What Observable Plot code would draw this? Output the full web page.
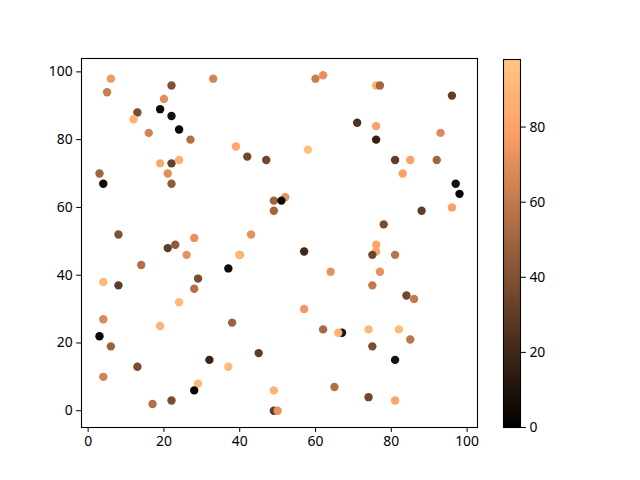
<!DOCTYPE html>
<html>
<head>
<meta charset="utf-8">
<script src="https://cdn.jsdelivr.net/npm/d3@7"></script>
<script src="https://cdn.jsdelivr.net/npm/@observablehq/plot@0.6"></script>
<style>
  body { margin: 0; background: white; }
  #chart { position: relative; width: 640px; height: 480px; }
  #chart svg { position: absolute; left: 0; top: 0; }
</style>
</head>
<body>
<div id="chart"></div>
<script>
// scatter values (x, y, colour value)
const xs = [6, 5, 22, 33, 20, 13, 12, 19, 22, 24, 16, 27, 39, 42, 47, 19, 22, 24, 21, 22,
  3, 4, 49, 52, 51, 49, 8, 28, 43, 60, 62, 76, 77, 96, 71, 76, 76, 93, 58, 81,
  85, 92, 83, 97, 98, 96, 88, 78, 23, 21, 26, 40, 40, 37, 14, 29, 28, 4, 8, 24,
  4, 19, 38, 3, 6, 13, 32, 37, 45, 4, 29, 28, 49, 17, 22, 49, 50, 57, 76, 76,
  75, 81, 64, 77, 75, 84, 86, 57, 62, 67, 66, 74, 82, 85, 75, 81, 65, 74, 81];
const ys = [98, 94, 96, 98, 92, 88, 86, 89, 87, 83, 82, 80, 78, 75, 74, 73, 73, 74, 70, 67,
  70, 67, 62, 63, 62, 59, 52, 51, 52, 98, 99, 96, 96, 93, 85, 84, 80, 82, 77, 74,
  74, 74, 70, 67, 64, 60, 59, 55, 49, 48, 46, 46, 46, 42, 43, 39, 36, 38, 37, 32,
  27, 25, 26, 22, 19, 13, 15, 13, 17, 10, 8, 6, 6, 2, 3, 0, 0, 47, 47, 49,
  46, 46, 41, 41, 37, 34, 33, 30, 24, 23, 23, 24, 24, 21, 19, 15, 7, 4, 3];
const cs = [75, 62, 40, 65, 70, 38, 88, 5, 8, 2, 65, 55, 82, 35, 35, 82, 32, 85, 70, 45,
  50, 5, 48, 72, 5, 50, 40, 72, 72, 62, 72, 85, 50, 30, 25, 78, 15, 68, 95, 30,
  78, 50, 78, 8, 2, 78, 30, 38, 45, 30, 72, 55, 90, 5, 55, 38, 55, 90, 30, 92,
  68, 88, 48, 3, 48, 38, 18, 92, 30, 65, 90, 2, 88, 55, 38, 30, 72, 20, 80, 80,
  35, 58, 72, 72, 60, 35, 60, 75, 52, 10, 88, 90, 92, 58, 38, 8, 55, 35, 80];

const cMax = 98;
const xTicks = [0, 20, 40, 60, 80, 100];
const yTicks = [0, 20, 40, 60, 80, 100];
const cTicks = [0, 20, 40, 60, 80];

const points = xs.map((x, i) => ({x, y: ys[i], c: cs[i]}));

// matplotlib "copper"
const copper = t => `rgb(${Math.min(1, t / 0.809524) * 255},${0.7812 * t * 255},${0.4975 * t * 255})`;
const colorScale = {type: "linear", domain: [0, cMax], interpolate: copper};

const font = {fontFamily: "Noto Sans, DejaVu Sans, sans-serif", fontSize: "13.9px", background: "transparent", color: "black"};

// 5% margins like matplotlib autoscale
const pad = (lo, hi) => [lo - (hi - lo) * 0.05, hi + (hi - lo) * 0.05];

const main = Plot.plot({
  width: 640,
  height: 480,
  marginLeft: 81,
  marginRight: 163,
  marginTop: 58,
  marginBottom: 53,
  style: font,
  x: {domain: pad(d3.min(xs), d3.max(xs)), ticks: xTicks, label: null},
  y: {domain: pad(d3.min(ys), d3.max(ys)), ticks: yTicks, label: null},
  color: colorScale,
  marks: [
    Plot.dot(points, {x: "x", y: "y", fill: "c", r: 4.2}),
    Plot.axisX({ticks: xTicks, tickSize: 4.9, tickPadding: 4, label: null}),
    Plot.axisY({ticks: yTicks, tickSize: 4.9, tickPadding: 4, label: null}),
    Plot.frame({stroke: "black", strokeWidth: 1.1})
  ]
});

// colour bar
const step = 0.5;
const slices = d3.range(0, cMax, step);
const bar = Plot.plot({
  width: 640,
  height: 480,
  marginLeft: 503,
  marginRight: 120,
  marginTop: 59,
  marginBottom: 53,
  style: font,
  y: {domain: [0, cMax], label: null},
  color: colorScale,
  marks: [
    Plot.rect(slices, {y1: d => d, y2: d => Math.min(cMax, d + step + 0.3), fill: d => d + step / 2}),
    Plot.axisY({anchor: "right", ticks: cTicks, tickSize: 4.9, tickPadding: 4, label: null}),
    Plot.frame({stroke: "black", strokeWidth: 1.1})
  ]
});

document.getElementById("chart").append(main, bar);
</script>
</body>
</html>
